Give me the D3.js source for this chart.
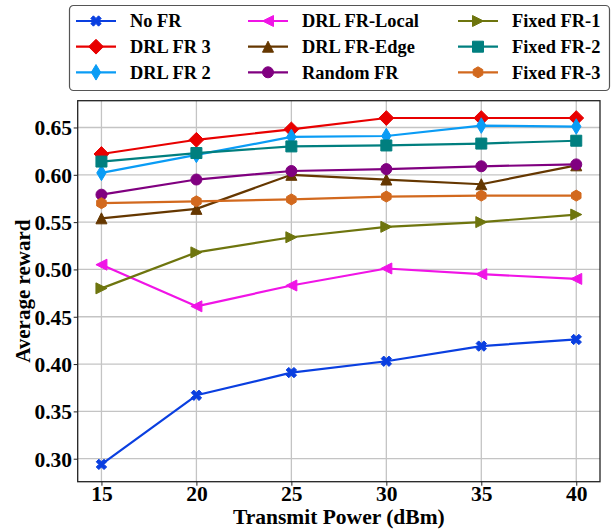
<!DOCTYPE html>
<html>
<head>
<meta charset="utf-8">
<script src="https://cdn.jsdelivr.net/npm/d3@7/dist/d3.min.js"></script>
<style>
  html, body { margin: 0; padding: 0; background: #fff; }
  svg { display: block; }
  text { font-family: "Liberation Serif", "Times New Roman", serif; font-weight: bold; fill: #000; }
</style>
</head>
<body>
<svg id="chart" width="616" height="529"></svg>
<script>
// ---------------- data ----------------
const powers = [15, 20, 25, 30, 35, 40];
const xTicks = [15, 20, 25, 30, 35, 40];
const yTicks = [0.30, 0.35, 0.40, 0.45, 0.50, 0.55, 0.60, 0.65];

const seriesNames = ["No FR", "DRL FR 3", "DRL FR 2", "DRL FR-Local", "DRL FR-Edge",
                     "Random FR", "Fixed FR-1", "Fixed FR-2", "Fixed FR-3"];
const noFR        = [0.294, 0.367, 0.391, 0.403, 0.419, 0.426];
const drlFR3      = [0.622, 0.637, 0.648, 0.660, 0.660, 0.660];
const drlFR2      = [0.602, 0.621, 0.640, 0.641, 0.652, 0.651];
const drlFRLocal  = [0.505, 0.461, 0.483, 0.501, 0.495, 0.490];
const drlFREdge   = [0.554, 0.564, 0.600, 0.595, 0.590, 0.610];
const randomFR    = [0.579, 0.595, 0.604, 0.606, 0.609, 0.611];
const fixedFR1    = [0.480, 0.518, 0.534, 0.545, 0.550, 0.558];
const fixedFR2    = [0.614, 0.623, 0.630, 0.631, 0.633, 0.636];
const fixedFR3    = [0.570, 0.572, 0.574, 0.577, 0.578, 0.578];
const seriesValues = [noFR, drlFR3, drlFR2, drlFRLocal, drlFREdge, randomFR, fixedFR1, fixedFR2, fixedFR3];

// ---------------- styles ----------------
const colors  = ["#0a3fe0", "#e80000", "#0a9cf5", "#f014e6", "#653700", "#800080", "#6e750e", "#007f7f", "#d2691e"];
const markers = ["X", "D", "d", "<", "^", "o", ">", "s", "h"];

const plot = { left: 77.7, right: 600, top: 100.7, bottom: 481.7 };
const MS = 11;

const svg = d3.select("#chart");

const x = d3.scaleLinear().domain([13.75, 41.25]).range([plot.left, plot.right]);
const y = d3.scaleLinear().domain([0.2757, 0.6783]).range([plot.bottom, plot.top]);

function markerPath(type, s) {
  const p = d3.path();
  const poly = pts => { p.moveTo(pts[0][0], pts[0][1]); pts.slice(1).forEach(q => p.lineTo(q[0], q[1])); p.closePath(); };
  const h = s / 2;
  switch (type) {
    case "o": p.arc(0, 0, h, 0, 2 * Math.PI); break;
    case "s": poly([[-h, -h], [h, -h], [h, h], [-h, h]]); break;
    case "D": { const r = 0.707 * s * 0.95; poly([[0, -r], [r, 0], [0, r], [-r, 0]]); break; }
    case "d": { const r = 0.707 * s; const w = 0.6 * r; poly([[0, -r], [w, 0], [0, r], [-w, 0]]); break; }
    case "^": poly([[0, -h], [h, h], [-h, h]]); break;
    case "<": poly([[-h, 0], [h, -h], [h, h]]); break;
    case ">": poly([[h, 0], [-h, -h], [-h, h]]); break;
    case "h": {
      const pts = [];
      for (let i = 0; i < 6; i++) { const a = -Math.PI / 2 + i * Math.PI / 3; pts.push([h * Math.cos(a), h * Math.sin(a)]); }
      poly(pts); break;
    }
    case "X": {
      const base = [[-1, -3], [-1, -1], [-3, -1], [-3, 1], [-1, 1], [-1, 3], [1, 3], [1, 1], [3, 1], [3, -1], [1, -1], [1, -3]]
        .map(([a, b]) => [a / 6 * s, b / 6 * s]);
      const c = Math.SQRT1_2;
      poly(base.map(([a, b]) => [a * c - b * c, a * c + b * c]));
      break;
    }
  }
  return p.toString();
}

// ---------------- grid ----------------
const grid = svg.append("g");
grid.selectAll("line.vx").data(xTicks).enter().append("line")
  .attr("x1", d => x(d)).attr("x2", d => x(d))
  .attr("y1", plot.top).attr("y2", plot.bottom)
  .attr("stroke", "#c4c4c4").attr("stroke-width", 1.3);
grid.selectAll("line.hy").data(yTicks).enter().append("line")
  .attr("y1", d => y(d)).attr("y2", d => y(d))
  .attr("x1", plot.left).attr("x2", plot.right)
  .attr("stroke", "#c4c4c4").attr("stroke-width", 1.3);

// ---------------- axes ----------------
const xAxis = d3.axisBottom(x).tickValues(xTicks).tickFormat(d3.format("d")).tickSize(4).tickPadding(3);
const yAxis = d3.axisLeft(y).tickValues(yTicks).tickFormat(d3.format(".2f")).tickSize(4).tickPadding(2);

const gx = svg.append("g").attr("transform", `translate(0,${plot.bottom})`).call(xAxis);
const gy = svg.append("g").attr("transform", `translate(${plot.left},0)`).call(yAxis);
[gx, gy].forEach(g => {
  g.attr("font-size", null).attr("font-family", null);
  g.select(".domain").remove();
  g.selectAll(".tick line").attr("stroke", "#222").attr("stroke-width", 1);
  g.selectAll(".tick text").style("font-size", "21.5px").style("font-family", "'Liberation Serif', serif").style("font-weight", "bold").attr("fill", "#000");
});
gx.selectAll(".tick text").attr("y", 19.5).attr("dy", "0");
gy.selectAll(".tick text").attr("x", -5.7).attr("dy", "0.34em");

// ---------------- series ----------------
const line = d3.line().x((d, i) => x(powers[i])).y(d => y(d));
const seriesG = svg.append("g");
seriesValues.forEach((vals, k) => {
  const g = seriesG.append("g");
  g.append("path").datum(vals).attr("d", line)
    .attr("fill", "none").attr("stroke", colors[k]).attr("stroke-width", 2.2).attr("stroke-linejoin", "round");
  g.selectAll("path.m").data(vals).enter().append("path")
    .attr("transform", (d, i) => `translate(${x(powers[i])},${y(d)})`)
    .attr("d", markerPath(markers[k], MS))
    .attr("fill", colors[k]).attr("stroke", colors[k]).attr("stroke-width", 1);
});

// frame
svg.append("rect").attr("x", plot.left).attr("y", plot.top)
  .attr("width", plot.right - plot.left).attr("height", plot.bottom - plot.top)
  .attr("fill", "none").attr("stroke", "#222").attr("stroke-width", 1.3);

// ---------------- labels ----------------
svg.append("text").attr("x", (plot.left + plot.right) / 2).attr("y", 523.5)
  .attr("text-anchor", "middle").style("font-size", "21.5px").text("Transmit Power (dBm)");
svg.append("text").attr("transform", `translate(29.5,${(plot.top + plot.bottom) / 2}) rotate(-90)`)
  .attr("text-anchor", "middle").style("font-size", "21px").text("Average reward");

// ---------------- legend ----------------
const leg = svg.append("g");
leg.append("rect").attr("x", 69.5).attr("y", 5.5).attr("width", 540).attr("height", 85)
  .attr("rx", 4).attr("fill", "#fff").attr("stroke", "#555").attr("stroke-width", 1.2);
const colX = [76, 248, 458];
const rowY = [21, 46.7, 72.3];
seriesNames.forEach((name, k) => {
  const c = Math.floor(k / 3), r = k % 3;
  const lx = colX[c], ly = rowY[r];
  const g = leg.append("g");
  g.append("line").attr("x1", lx).attr("x2", lx + 40).attr("y1", ly).attr("y2", ly)
    .attr("stroke", colors[k]).attr("stroke-width", 2.2);
  g.append("path").attr("transform", `translate(${lx + 20},${ly})`)
    .attr("d", markerPath(markers[k], MS)).attr("fill", colors[k]).attr("stroke", colors[k]).attr("stroke-width", 1);
  g.append("text").attr("x", lx + 54).attr("y", ly).attr("dy", "0.35em")
    .style("font-size", "18.4px").text(name);
});
</script>
</body>
</html>
